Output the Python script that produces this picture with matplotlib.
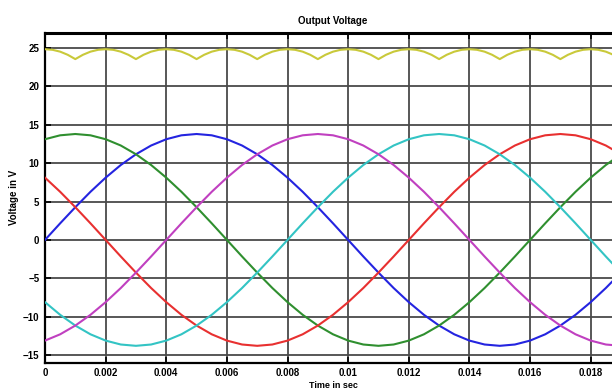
import numpy as np
import matplotlib
matplotlib.use("Agg")
import matplotlib.pyplot as plt

plt.rcParams['font.family'] = ['Liberation Sans Narrow', 'Liberation Sans', 'DejaVu Sans']

# time grid (s)
t_phase = np.round(np.arange(39) * 0.0005, 5)
t_out = np.round(np.arange(77) * 0.00025, 5)

phase_blue = [0, 2.16, 4.26, 6.27, 8.11, 9.76, 11.16, 12.30, 13.12, 13.63, 13.80, 13.63, 13.12,
              12.30, 11.16, 9.76, 8.11, 6.27, 4.26, 2.16, 0, -2.16, -4.26, -6.27, -8.11, -9.76,
              -11.16, -12.30, -13.12, -13.63, -13.80, -13.63, -13.12, -12.30, -11.16, -9.76,
              -8.11, -6.27, -4.26]
phase_green = [13.12, 13.63, 13.80, 13.63, 13.12, 12.30, 11.16, 9.76, 8.11, 6.27, 4.26, 2.16, 0,
               -2.16, -4.26, -6.27, -8.11, -9.76, -11.16, -12.30, -13.12, -13.63, -13.80, -13.63,
               -13.12, -12.30, -11.16, -9.76, -8.11, -6.27, -4.26, -2.16, 0, 2.16, 4.26, 6.27,
               8.11, 9.76, 11.16]
phase_red = [8.11, 6.27, 4.26, 2.16, 0, -2.16, -4.26, -6.27, -8.11, -9.76, -11.16, -12.30, -13.12,
             -13.63, -13.80, -13.63, -13.12, -12.30, -11.16, -9.76, -8.11, -6.27, -4.26, -2.16, 0,
             2.16, 4.26, 6.27, 8.11, 9.76, 11.16, 12.30, 13.12, 13.63, 13.80, 13.63, 13.12, 12.30,
             11.16]
phase_cyan = [-8.11, -9.76, -11.16, -12.30, -13.12, -13.63, -13.80, -13.63, -13.12, -12.30, -11.16,
              -9.76, -8.11, -6.27, -4.26, -2.16, 0, 2.16, 4.26, 6.27, 8.11, 9.76, 11.16, 12.30,
              13.12, 13.63, 13.80, 13.63, 13.12, 12.30, 11.16, 9.76, 8.11, 6.27, 4.26, 2.16, 0,
              -2.16, -4.26]
phase_magenta = [-13.12, -12.30, -11.16, -9.76, -8.11, -6.27, -4.26, -2.16, 0, 2.16, 4.26, 6.27,
                 8.11, 9.76, 11.16, 12.30, 13.12, 13.63, 13.80, 13.63, 13.12, 12.30, 11.16, 9.76,
                 8.11, 6.27, 4.26, 2.16, 0, -2.16, -4.26, -6.27, -8.11, -9.76, -11.16, -12.30,
                 -13.12, -13.63, -13.80]
output_voltage = [24.85, 24.77, 24.53, 24.12, 23.56, 24.12, 24.53, 24.77,
                  24.85, 24.77, 24.53, 24.12, 23.56, 24.12, 24.53, 24.77,
                  24.85, 24.77, 24.53, 24.12, 23.56, 24.12, 24.53, 24.77,
                  24.85, 24.77, 24.53, 24.12, 23.56, 24.12, 24.53, 24.77,
                  24.85, 24.77, 24.53, 24.12, 23.56, 24.12, 24.53, 24.77,
                  24.85, 24.77, 24.53, 24.12, 23.56, 24.12, 24.53, 24.77,
                  24.85, 24.77, 24.53, 24.12, 23.56, 24.12, 24.53, 24.77,
                  24.85, 24.77, 24.53, 24.12, 23.56, 24.12, 24.53, 24.77,
                  24.85, 24.77, 24.53, 24.12, 23.56, 24.12, 24.53, 24.77,
                  24.85, 24.77, 24.53, 24.12, 23.56]

x_ticks = [0, 0.002, 0.004, 0.006, 0.008, 0.01, 0.012, 0.014, 0.016, 0.018]
x_ticklabels = ['0', '0.002', '0.004', '0.006', '0.008', '0.01', '0.012', '0.014', '0.016', '0.018']
y_ticks = [-15, -10, -5, 0, 5, 10, 15, 20, 25]

fig = plt.figure(figsize=(6.12, 3.92), dpi=100)
W, H = 612, 392
ax = fig.add_axes([45 / W, (H - 362.7) / H, 576 / W, (362.7 - 32.7) / H])

ax.grid(True, color='#4a4a4a', linewidth=1.3, zorder=1)
ax.set_axisbelow(True)

ax.plot(t_out, output_voltage, color='#c9c93a', lw=1.5, zorder=3)
ax.plot(t_phase, phase_blue, color='#2424e0', lw=1.5, zorder=3)
ax.plot(t_phase, phase_green, color='#2f8f2f', lw=1.5, zorder=3)
ax.plot(t_phase, phase_red, color='#e83030', lw=1.5, zorder=3)
ax.plot(t_phase, phase_cyan, color='#33c4c4', lw=1.5, zorder=3)
ax.plot(t_phase, phase_magenta, color='#c040c0', lw=1.5, zorder=3)

ax.set_xlim(0, 0.019)
ax.set_ylim(-16, 27)
ax.set_xticks(x_ticks)
ax.set_xticklabels(x_ticklabels)
ax.set_yticks(y_ticks)
ax.tick_params(direction='in', length=4, width=1.2, top=True, right=True,
               labelsize=7, pad=4, colors='black')
for lab in ax.get_xticklabels() + ax.get_yticklabels():
    lab.set_fontweight('bold')
for s in ax.spines.values():
    s.set_linewidth(1.6)
ax.spines['top'].set_linewidth(2.2)

ax.set_title('Output Voltage', fontsize=7, fontweight='bold', pad=6)
ax.set_ylabel('Voltage in V', fontsize=7, fontweight='bold')
ax.yaxis.set_label_coords(-0.046, 0.5)
ax.set_xlabel('Time in sec', fontsize=6.5, fontweight='bold', labelpad=2)

fig.savefig('out.png', dpi=100)
